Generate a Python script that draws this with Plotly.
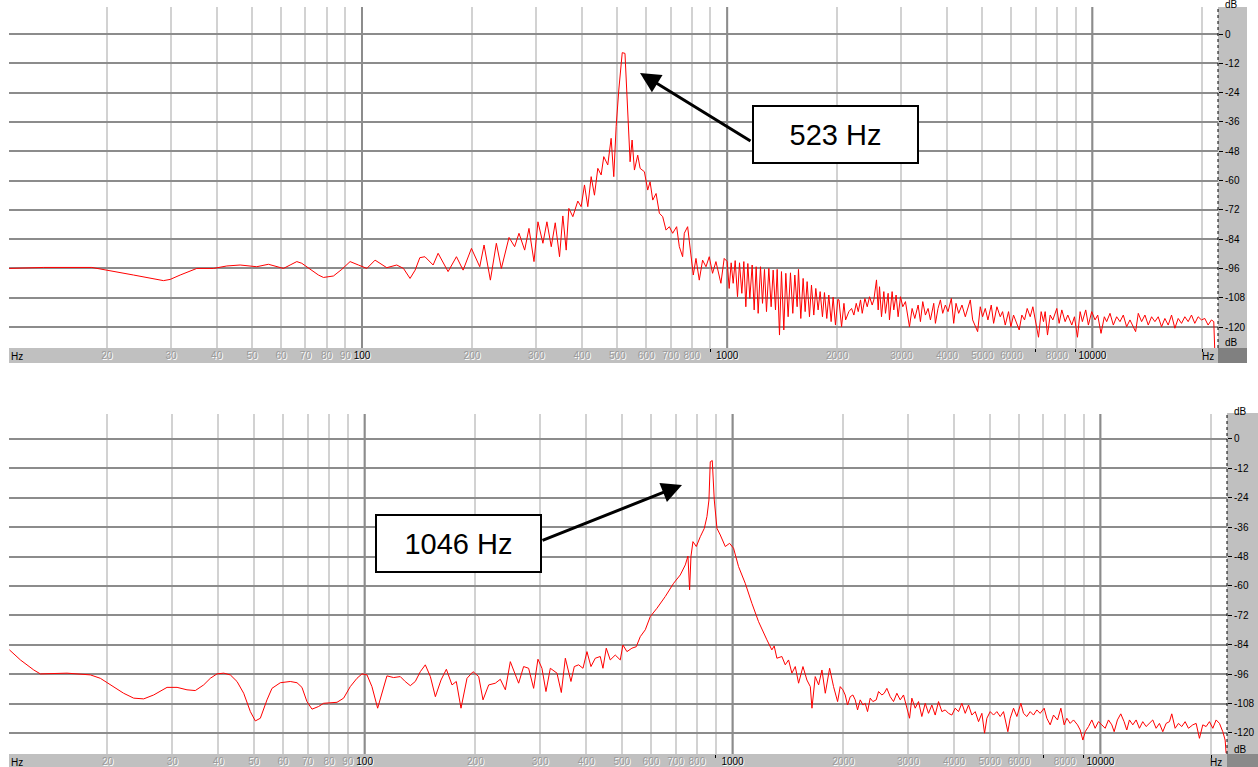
import math
import plotly.graph_objects as go

W, H = 1258, 767

# ---------------- data ----------------
top_freq = [
    10.81, 13.42, 18.2, 19.6, 23.68, 28.6, 29.84, 31.78, 33.83, 35.29, 39.2, 42.64, 46.38, 51.5,
    55.43, 58.44, 60.95, 63.57, 66.3, 68.42, 72.11, 75.99, 78.43, 83.53, 88.04, 92.77, 97.79,
    103.1, 108.6, 113.3, 116.9, 124.5, 129.9, 135.4, 139.8,
    144.0, 148.7, 156.6, 161.6, 172.1, 181.4, 189.2, 199.4, 210.1, 215.9, 224.7, 233.3, 240.8,
    252.7, 261.8, 269.1, 278.9, 286.6, 295.8, 303.3, 312.9, 320.9, 329.8, 338.2, 347.5, 354.8,
    362.4, 368.5, 377.9, 389.9, 398.2, 406.7, 415.3, 424.2, 433.1, 442.3, 451.8, 459.3, 471.0,
    481.1, 489.2, 496.5, 504.9, 516.0, 525.0, 531.0, 537.5, 542.2, 549.1, 557.2, 568.9, 577.6,
    593.4, 605.9, 615.0, 625.5, 638.7, 652.1, 665.9, 680.1, 694.4, 709.1, 727.1, 739.6, 755.1,
    763.1, 779.3, 791.0, 807.6, 821.4, 838.7, 856.4, 874.8, 893.1, 911.9, 931.5, 961.3, 981.3,
    1000, 1012.7, 1025.5, 1038.5, 1051.7, 1067.3, 1080.8, 1096.8, 1110.7, 1124.8, 1139.1, 1153.5,
    1170.6, 1185.5, 1200.5, 1215.7, 1233.7, 1249.4, 1265.2, 1281.3, 1300.3, 1319.5, 1336.3,
    1356.1, 1370.4, 1390.7, 1408.3, 1429.2, 1447.3, 1468.7, 1490.5, 1512.6, 1531.8, 1554.5,
    1567.6, 1590.8, 1614.4, 1634.9, 1655.6, 1680.1, 1701.4, 1726.6, 1748.5, 1774.4, 1796.9,
    1823.5, 1846.6, 1874, 1897.8, 1926, 1950.4, 1979.3, 2008.6,
    2023, 2057, 2088, 2110, 2154, 2191, 2223, 2256, 2285, 2318, 2343, 2383, 2418, 2454, 2495,
    2521, 2564, 2591, 2613, 2646, 2685, 2713, 2759, 2782, 2829, 2859, 2901, 2938, 2982, 3026,
    3077, 3156, 3209, 3264, 3333, 3382, 3432, 3490, 3549, 3602, 3678, 3717, 3779, 3836, 3892,
    3958, 4025, 4110, 4171, 4233, 4304, 4395, 4488, 4632, 4701, 4780, 4851, 4932, 5005, 5090,
    5176, 5286, 5365, 5478, 5594, 5677, 5773, 5895, 5982, 6083, 6173, 6304, 6411, 6520, 6630,
    6757, 6871, 7002, 7120, 7241, 7348, 7426, 7535, 7663, 7793, 7991, 8110, 8248, 8422, 8565,
    8783, 8932, 9102, 9257, 9390, 9590, 9752, 9959, 10170, 10342, 10561, 10784, 10944, 11176,
    11413, 11655, 11902, 12154, 12412, 12674, 13134, 13357, 13640, 13929, 14223, 14525, 14833,
    15147, 15468, 15795, 16130, 16475, 16823, 17179, 17543, 17914, 18294, 18681, 19077, 19481,
    19893, 20315, 20745, 21184, 21499, 21634,
]
top_db = [
    -96.0, -95.6, -95.6, -96.4, -98.7, -101.0, -100.5, -98.7, -96.9, -96.0, -96.0, -95.0, -94.6,
    -95.3, -94.3, -95.3, -96.0, -94.6, -93.2, -93.9, -96.4, -98.7, -99.7, -99.1, -96.4, -93.2,
    -94.6, -96.0, -92.6, -94.6, -95.7, -94.6, -96.0, -100.1, -96.7,
    -91.6, -91.2, -94.6, -89.8, -97.3, -91.2, -96.7, -87.8, -95.3, -86.4, -100.8, -85.7, -96.0,
    -83.3, -87.1, -81.6, -88.5, -79.6, -93.2, -76.9, -85.7, -76.9, -87.1, -77.3, -91.2, -74.5,
    -88.5, -71.4, -74.8, -68.4, -70.7, -61.8, -70.7, -58.4, -66.0, -55.0, -57.7, -50.2, -53.6,
    -42.7, -58.4, -37.9, -22.9, -7.6, -7.9, -22.9, -37.9, -52.3, -43.4, -55.7, -49.6, -55.0,
    -56.4, -63.9, -60.5, -68.0, -65.3, -73.4, -74.8, -80.3, -78.9, -81.6, -78.9, -87.1, -91.2,
    -81.6, -78.9, -87.8, -98.7, -91.9, -100.8, -92.6, -95.3, -91.2, -98.0, -93.2, -102.1, -91.9,
    -93.2, -104.2, -93.7, -102.1, -92.8, -107.6, -93.7, -106.2, -93.2, -111.7, -94.0, -108.3,
    -94.6, -113.0, -95.3, -114.4, -95.3, -110.3, -96.4, -113.7, -96.0, -111.7, -96.7, -113.0,
    -96.4, -123.3, -97.3, -121.2, -98.0, -115.8, -97.8, -114.4, -98.7, -111.7, -96.4, -116.5,
    -100.1, -113.7, -101.4, -115.8, -102.8, -115.1, -104.2, -113.0, -105.5, -115.8, -105.9,
    -116.5, -106.9, -117.8, -107.8, -119.2, -108.7,
    -108.9, -119.9, -110.3, -117.1, -113.7, -112.4, -115.1, -110.3, -113.7, -108.9, -114.4,
    -108.3, -111.7, -107.6, -111.0, -108.9, -100.7, -113.0, -103.5, -115.8, -105.5, -114.4,
    -106.2, -117.1, -105.5, -113.0, -106.9, -115.8, -107.6, -111.7, -109.6, -119.9, -112.4,
    -116.5, -111.0, -117.8, -109.6, -115.1, -112.4, -117.1, -110.3, -118.5, -112.4, -108.9,
    -114.4, -111.0, -113.7, -108.3, -118.5, -110.3, -114.4, -111.0, -115.8, -108.9, -117.1,
    -119.9, -121.9, -111.7, -115.8, -112.4, -117.1, -111.0, -118.5, -111.7, -115.8, -113.7,
    -119.2, -113.7, -119.9, -115.1, -117.8, -121.2, -115.1, -117.1, -112.4, -115.8, -111.7,
    -118.5, -124.2, -113.7, -117.8, -113.7, -123.3, -115.1, -117.1, -112.4, -118.5, -113.0,
    -117.8, -115.1, -119.2, -115.8, -124.2, -113.7, -117.8, -113.0, -119.2, -113.7, -117.1,
    -115.1, -122.6, -115.8, -117.8, -114.4, -119.2, -115.8, -117.8, -115.1, -119.9, -117.1,
    -121.9, -114.4, -117.8, -115.1, -119.2, -115.8, -117.8, -115.8, -119.9, -116.5, -119.2,
    -115.1, -120.5, -116.5, -118.5, -115.8, -117.8, -115.1, -118.5, -115.8, -117.1, -116.5,
    -119.2, -117.1, -117.8, -129.4,
]

bot_freq = [
    10.83, 11.6, 12.61, 13.14, 15.53, 17.97, 19.13, 20.8, 22.13, 23.57, 25.09, 26.71, 29.04,
    30.92, 32.9, 34.66, 36.52, 38.07, 39.69, 41.4, 43.15, 45.0, 46.92, 48.92, 50.46, 52.07,
    54.28, 56.0, 59.0, 62.8, 65.5, 67.56, 69.7, 71.94, 74.99, 77.36, 84.13, 87.7, 91.4, 95.33,
    98.35, 101.5, 104.7, 108.5, 111.5, 115.0, 119.9, 125.0, 128.9, 133.1, 137.3,
    141.7, 146.2, 150.9, 155.7, 161.3, 166.8, 172.8, 177.5, 182.8, 189.8, 197.1, 204.2, 209.8,
    217.4, 226.6, 233.8, 241.3, 248.9, 255.2, 262.2, 270.5, 279.1, 288.0, 295.9, 303.4, 311.1,
    319.7, 333.3, 342.5, 351.2, 363.8, 371.5, 381.7, 392.2, 402.1, 412.3, 423.6, 437.0, 444.4,
    453.7, 465.2, 480.0, 495.3, 503.6, 516.4, 532.8, 547.4, 561.3, 579.2, 597.6, 623.1, 656.5,
    691.6, 721.1, 744.1, 756.5, 764.5, 770.9, 780.6, 797.1, 817.3, 838.0, 852.1, 862.8, 870.0,
    881.0, 892.1, 907.2, 926.3, 955.7, 981.7, 1006.5, 1038.5, 1082.7, 1128.9, 1177, 1240, 1279,
    1298, 1320, 1362, 1391, 1420, 1450, 1481, 1512, 1554, 1593, 1627, 1644, 1678, 1714, 1750,
    1787, 1836, 1882, 1930,
    1962, 1995, 2024, 2054, 2089, 2124, 2155, 2187, 2224, 2262, 2294, 2328, 2367, 2407, 2458,
    2494, 2546, 2584, 2627, 2683, 2739, 2797, 2856, 2916, 2965, 3028, 3072, 3137, 3203, 3270,
    3340, 3410, 3481, 3555, 3630, 3707, 3784, 3864, 3946, 4029, 4114, 4201, 4290, 4380, 4472,
    4567, 4663, 4761, 4842, 4913, 5016, 5122, 5229, 5340, 5452, 5602, 5685, 5805, 5927, 6076,
    6179, 6309, 6442, 6578, 6716, 6858, 7032, 7150, 7301, 7455, 7644, 7806, 7970, 8105, 8275,
    8450, 8663, 8810, 8958, 9091, 9282, 9475, 9674, 9878, 10086, 10299, 10517, 10738, 10897,
    11121, 11357, 11596, 11792, 11990, 12244, 12501, 12765, 13033, 13309, 13591, 13876, 14169,
    14466, 14773, 15086, 15402, 15628, 15959, 16297, 16638, 16990, 17346, 17824, 18201, 18582,
    18975, 19377, 19783, 20202, 20626, 21063, 21509, 21824, 21960,
]
bot_db = [
    -86.1, -90.2, -94.3, -95.9, -95.6, -96.3, -97.7, -101.1, -103.8, -105.8, -106.1, -104.5,
    -101.4, -101.4, -102.4, -102.7, -100.4, -97.7, -95.9, -95.6, -96.3, -99.0, -103.8, -111.3,
    -115.1, -114.0, -106.5, -101.8, -99.5, -99.0, -99.5, -101.4, -107.2, -110.3, -109.2, -107.9,
    -107.5, -105.8, -101.1, -97.7, -95.9, -96.3, -101.1, -109.9, -103.8, -96.7, -97.4, -97.0,
    -99.0, -100.7, -99.0,
    -95.0, -92.2, -97.0, -105.2, -98.4, -94.0, -100.4, -99.0, -109.9, -97.7, -95.0, -97.0,
    -106.5, -100.4, -99.7, -98.1, -102.4, -90.9, -95.0, -99.7, -92.9, -93.6, -101.8, -89.9,
    -93.6, -103.1, -93.6, -95.6, -103.5, -89.5, -99.0, -92.9, -92.2, -93.6, -86.8, -92.9,
    -89.5, -88.8, -93.6, -85.4, -90.2, -88.2, -90.2, -84.1, -86.8, -85.4, -84.8, -80.7, -77.9,
    -72.5, -69.1, -64.3, -58.9, -55.5, -51.4, -47.8, -61.6, -48.0, -41.9, -43.9, -39.9, -36.5,
    -31.7, -24.9, -9.3, -8.8, -24.9, -36.5, -39.2, -43.9, -42.6, -44.6, -52.1, -58.9, -67.1,
    -74.6, -82.0, -86.1, -84.5, -89.5, -88.8, -92.2, -90.2, -95.6, -92.9, -99.7, -92.9, -98.4,
    -101.1, -109.9, -97.0, -100.4, -94.3, -103.8, -93.6, -101.1, -107.2,
    -101.1, -102.4, -104.5, -108.6, -105.2, -104.5, -106.5, -110.6, -106.5, -108.6, -107.9,
    -111.3, -105.8, -107.2, -106.5, -103.1, -104.5, -103.8, -101.8, -105.2, -107.2, -103.8,
    -106.5, -104.5, -108.6, -114.0, -105.8, -109.9, -107.2, -113.3, -107.9, -112.0, -108.6,
    -112.7, -107.2, -111.3, -110.6, -112.0, -112.7, -109.9, -111.3, -107.9, -112.0, -108.6,
    -112.7, -111.3, -115.4, -112.0, -120.1, -114.0, -111.3, -112.7, -111.3, -113.3, -111.3,
    -119.5, -114.0, -109.9, -113.3, -107.9, -112.0, -113.3, -111.3, -112.7, -110.6, -112.0,
    -109.9, -114.0, -116.7, -112.7, -114.7, -109.9, -116.7, -114.0, -116.1, -114.7, -116.7,
    -118.8, -122.9, -119.5, -117.4, -114.7, -118.1, -115.4, -116.7, -118.1, -114.7, -116.7,
    -119.5, -114.7, -112.2, -115.4, -118.8, -114.7, -116.7, -114.7, -118.1, -115.4, -117.4,
    -116.1, -114.7, -118.1, -116.1, -119.5, -116.1, -115.4, -112.2, -118.1, -116.1, -117.4,
    -115.4, -118.1, -116.7, -116.1, -122.2, -116.7, -117.4, -115.4, -118.1, -114.7, -116.1,
    -119.5, -122.9, -128.3,
]

freq_range_hz = [10.8, 22080]
top_db_range = [-128.6, 11.1]
bot_db_range = [-128.6, 10.2]

label_freqs = [20, 30, 40, 50, 60, 70, 80, 90, 100, 200, 300, 400, 500, 600, 700, 800,
               1000, 2000, 3000, 4000, 5000, 6000, 8000, 10000]
unlabeled_freqs = [900, 7000, 9000, 20000]
decade_freqs = [100, 1000, 10000]
db_ticks = [0, -12, -24, -36, -48, -60, -72, -84, -96, -108, -120]
db_tick_labels = ["0", "-12", "-24", "-36", "-48", "-60", "-72", "-84", "-96", "-108", "-120"]

callout_top = "523 Hz"
callout_bottom = "1046 Hz"

# ---------------- helpers (layout only) ----------------
def px(x):
    return x / W


def py(y):
    return 1 - y / H


tick_text = []
for f in label_freqs:
    if f in decade_freqs:
        tick_text.append('<span style="color:#000000">%d</span>' % f)
    else:
        tick_text.append(str(f))

FONT = "Liberation Sans, Arial, sans-serif"
LIGHT_GRID = "#d2d2d2"
DARK_GRID = "#8c8c8c"
BAR = "#c0c0c0"

fig = go.Figure()
fig.add_trace(go.Scatter(x=top_freq, y=top_db, mode="lines", xaxis="x", yaxis="y",
                         line=dict(color="#ff0000", width=1), hoverinfo="skip", showlegend=False))
fig.add_trace(go.Scatter(x=bot_freq, y=bot_db, mode="lines", xaxis="x2", yaxis="y2",
                         line=dict(color="#ff0000", width=1), hoverinfo="skip", showlegend=False))


def xaxis_cfg(domain, anchor):
    return dict(
        type="log", range=[math.log10(freq_range_hz[0]), math.log10(freq_range_hz[1])],
        domain=domain, anchor=anchor, tickvals=label_freqs, ticktext=tick_text,
        ticks="", tickangle=0, showgrid=True, gridcolor=LIGHT_GRID, gridwidth=2,
        zeroline=False, showline=False,
        tickfont=dict(family=FONT, size=10, color="#9a9a9a", shadow="1px 1px 0px #ffffff"),
        minor=dict(tickvals=unlabeled_freqs, ticks="outside", ticklen=3, tickcolor="#000000",
                   tickwidth=1, showgrid=True, gridcolor=LIGHT_GRID, gridwidth=2),
        fixedrange=True,
    )


def yaxis_cfg(domain, anchor, rng):
    return dict(
        range=rng, domain=domain, anchor=anchor, side="right",
        tickvals=db_ticks, ticktext=db_tick_labels, ticks="outside", ticklen=4,
        tickcolor="#000000", tickwidth=1, showgrid=True, gridcolor=DARK_GRID, gridwidth=2,
        zeroline=False, showline=False,
        tickfont=dict(family=FONT, size=10, color="#000000"), fixedrange=True,
    )


shapes = []
# gray frame pieces
for (x0, x1, y0, y1, c) in [
    (9, 1218, 348, 363, BAR), (1218, 1247, 7, 348, BAR), (1218, 1247, 348, 363, "#808080"),
    (9, 1227, 754, 767, BAR), (1227, 1258, 413, 754, BAR), (1227, 1258, 754, 767, "#8a8a8a"),
]:
    shapes.append(dict(type="rect", xref="paper", yref="paper", x0=px(x0), x1=px(x1),
                       y0=py(y1), y1=py(y0), fillcolor=c, line=dict(width=0), layer="below"))
# decade grid lines (drawn between the grid and the traces)
for xr, yr, rng in [("x", "y", top_db_range), ("x2", "y2", bot_db_range)]:
    for d in decade_freqs:
        shapes.append(dict(type="line", xref=xr, yref=yr, x0=d, x1=d, y0=rng[0], y1=rng[1],
                           line=dict(color=DARK_GRID, width=2), layer="between"))
# dotted dB scale lines
for xr, yr in [("x domain", "y domain"), ("x2 domain", "y2 domain")]:
    shapes.append(dict(type="line", xref=xr, yref=yr, x0=1, x1=1, y0=0, y1=1,
                       line=dict(color="#000000", width=1, dash="dot"), layer="above"))

small = dict(family=FONT, size=10, color="#000000")
annotations = []
for (x, y, t, xa) in [(9, 356, "Hz", "left"), (1216, 356, "Hz", "right"),
                      (1223, 5, "dB", "left"), (1223, 342, "dB", "left"),
                      (9, 762, "Hz", "left"), (1224, 762, "Hz", "right"),
                      (1232, 411, "dB", "left"), (1232, 749, "dB", "left")]:
    annotations.append(dict(x=px(x), y=py(y), xref="paper", yref="paper", text=t,
                            showarrow=False, xanchor=xa, yanchor="middle", font=small))

# arrows
for (tipx, tipy, tailx, taily) in [(640, 73, 752, 142), (682, 485, 541, 541)]:
    annotations.append(dict(x=px(tipx), y=py(tipy), xref="paper", yref="paper", text="",
                            showarrow=True, ax=tailx - tipx, ay=taily - tipy, axref="pixel",
                            ayref="pixel", arrowhead=2, arrowsize=1.35, arrowwidth=3,
                            arrowcolor="#000000", standoff=0, startstandoff=0))
# callout boxes
for (cx, cy, t) in [(835.5, 134.5, callout_top), (458, 543.5, callout_bottom)]:
    annotations.append(dict(x=px(cx), y=py(cy), xref="paper", yref="paper", text=t,
                            showarrow=False, xanchor="center", yanchor="middle",
                            width=163, height=55, borderwidth=2, borderpad=0,
                            bordercolor="#000000", bgcolor="#ffffff",
                            font=dict(family=FONT, size=29, color="#000000")))

fig.update_layout(
    width=W, height=H, margin=dict(l=0, r=0, t=0, b=0), autosize=False,
    paper_bgcolor="#ffffff", plot_bgcolor="#ffffff", showlegend=False,
    xaxis=xaxis_cfg([px(9), px(1218)], "y"),
    yaxis=yaxis_cfg([py(348), py(7)], "x", top_db_range),
    xaxis2=xaxis_cfg([px(9), px(1227)], "y2"),
    yaxis2=yaxis_cfg([py(754), py(414)], "x2", bot_db_range),
    shapes=shapes, annotations=annotations,
)

fig.write_html("out.html", config={"displayModeBar": False})
